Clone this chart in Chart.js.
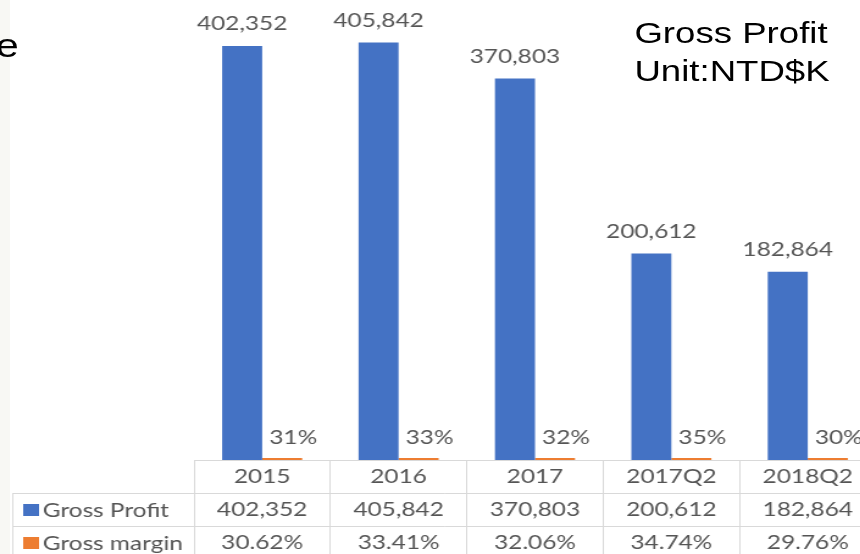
<!DOCTYPE html>
<html>
<head>
<meta charset="utf-8">
<script src="https://cdn.jsdelivr.net/npm/chart.js@4/dist/chart.umd.min.js"></script>
<style>
  html, body { margin: 0; padding: 0; background: #ffffff; overflow: hidden; width: 860px; height: 554px; }
  #stripe { position: absolute; left: 0; top: 0; width: 10px; height: 554px; background: #f8f8f4; }
  /* the source picture is stretched sideways, so the whole drawing is too */
  #stage { position: absolute; left: 0; top: -3px; width: 718px; height: 562px; transform: scaleX(1.22); transform-origin: 0 0; }
  #stage canvas { position: absolute; left: 0; top: 0; }
  .note { position: absolute; font-family: "Liberation Sans", Arial, sans-serif; color: #000; white-space: nowrap; }
  #title { left: 520px; top: 17px; font-size: 30px; line-height: 38.4px; }
  #cut { left: -3.5px; top: 28px; font-size: 34px; line-height: 40px; }
</style>
</head>
<body>
<div id="stripe"></div>
<div id="stage">
  <canvas id="profitChart" width="718" height="562"></canvas>
  <div class="note" id="cut">e</div>
  <div class="note" id="title">Gross Profit<br>Unit:NTD$K</div>
</div>
<script>
const categories = ['2015', '2016', '2017', '2017Q2', '2018Q2'];
const grossProfit = [402352, 405842, 370803, 200612, 182864];
const grossMargin = [30.62, 33.41, 32.06, 34.74, 29.76];
const seriesNames = ['Gross Profit', 'Gross margin'];
const seriesColors = ['#4472c4', '#ed7d31'];

const textColor = '#555555';
const lineColor = '#d9d9d9';
const rowHeight = 33;
const tableFont = '20px Lato';

// each x tick is one column of the data table
const tableLabels = categories.map((c, i) => [
    c,
    grossProfit[i].toLocaleString('en-US'),
    grossMargin[i].toFixed(2) + '%'
]);

const valueLabels = {
    id: 'valueLabels',
    afterDatasetsDraw(chart) {
        const ctx = chart.ctx;
        ctx.save();
        ctx.font = tableFont;
        ctx.fillStyle = textColor;
        ctx.textAlign = 'center';
        ctx.textBaseline = 'middle';
        chart.getDatasetMeta(0).data.forEach((bar, i) => {
            ctx.fillText(grossProfit[i].toLocaleString('en-US'), bar.x, bar.y - 22);
        });
        chart.getDatasetMeta(1).data.forEach((bar, i) => {
            ctx.fillText(Math.round(grossMargin[i]) + '%', bar.x + 9, bar.y - 20);
        });
        ctx.restore();
    }
};

const tableLines = {
    id: 'tableLines',
    afterDraw(chart) {
        const ctx = chart.ctx;
        const xs = chart.scales.x;
        const top = xs.top;
        const left = 10.5;
        ctx.save();
        ctx.strokeStyle = lineColor;
        ctx.lineWidth = 1;
        ctx.beginPath();
        for (let r = 1; r <= 2; r++) {
            const y = Math.round(top + r * rowHeight) + 0.5;
            ctx.moveTo(left, y);
            ctx.lineTo(xs.right, y);
        }
        ctx.moveTo(left, Math.round(top + rowHeight));
        ctx.lineTo(left, xs.bottom);
        ctx.stroke();

        // legend keys in the row headers
        ctx.font = tableFont;
        ctx.textAlign = 'left';
        ctx.textBaseline = 'middle';
        seriesNames.forEach((name, i) => {
            const cy = top + rowHeight * (i + 1) + rowHeight / 2;
            ctx.fillStyle = seriesColors[i];
            ctx.fillRect(19, Math.round(cy - 6), 13, 12);
            ctx.fillStyle = textColor;
            ctx.fillText(name, 35, cy + 1);
        });
        ctx.restore();
    }
};

function drawChart() {
    const ctx = document.getElementById('profitChart').getContext('2d');
    new Chart(ctx, {
        type: 'bar',
        data: {
            labels: tableLabels,
            datasets: [
                { label: seriesNames[0], data: grossProfit, backgroundColor: seriesColors[0], barPercentage: 1, categoryPercentage: 0.587 },
                { label: seriesNames[1], data: grossMargin, backgroundColor: seriesColors[1], barPercentage: 1, categoryPercentage: 0.587, minBarLength: 2 }
            ]
        },
        options: {
            responsive: false,
            animation: false,
            devicePixelRatio: 1,
            layout: { padding: { left: 159, right: 0, top: 0, bottom: 0 } },
            plugins: {
                legend: { display: false },
                tooltip: { enabled: false }
            },
            scales: {
                y: { display: false, min: 0, max: 450000 },
                x: {
                    offset: true,
                    grid: { display: true, offset: true, drawOnChartArea: false, drawTicks: true, tickLength: rowHeight * 3, color: lineColor, lineWidth: 1 },
                    border: { display: true, color: lineColor, width: 1 },
                    ticks: {
                        padding: -rowHeight * 3,
                        color: textColor,
                        font: { family: 'Lato', size: 20, lineHeight: rowHeight + 'px' },
                        maxRotation: 0,
                        autoSkip: false
                    },
                    afterFit: scale => { scale.height = rowHeight * 3; }
                }
            }
        },
        plugins: [valueLabels, tableLines]
    });
}

if (document.fonts && document.fonts.load) {
    document.fonts.load(tableFont).then(drawChart, drawChart);
} else {
    drawChart();
}
</script>
</body>
</html>
